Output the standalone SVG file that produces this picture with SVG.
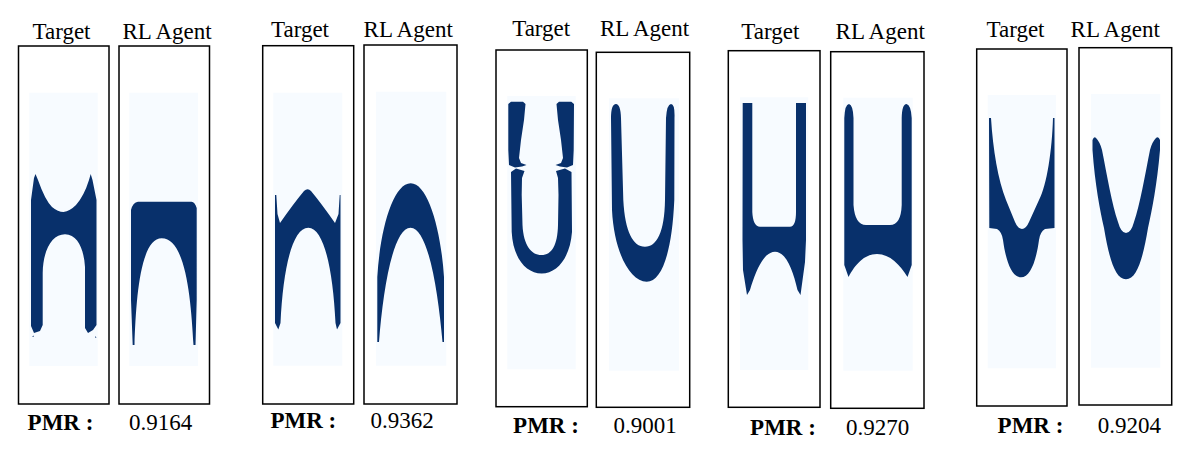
<svg xmlns="http://www.w3.org/2000/svg" width="1196" height="455" viewBox="0 0 1196 455">
<style>
.box{fill:#ffffff;stroke:#000000;stroke-width:1.5}
.bg{fill:#f7fbff}
.sh{fill:#08306b}
.t{font-family:"Liberation Serif","Times New Roman",serif;font-size:23px;fill:#000000;text-anchor:middle}
.b{font-weight:bold}
</style>
<rect width="1196" height="455" fill="#ffffff"/>
<g id="pair1">
<text class="t" x="61.5" y="39">Target</text>
<text class="t" x="167" y="39">RL Agent</text>
<rect class="box" x="18.5" y="46" width="90.5" height="358"/>
<rect class="box" x="119" y="46" width="90.5" height="358"/>
<rect class="bg" x="29.3" y="92.7" width="68.4" height="273.3"/>
<rect class="bg" x="129.3" y="92.7" width="68.7" height="273.3"/>
<path class="sh" d="M31,200 L34,178 L35.5,174 L38,180 Q45,200 52,207 Q58,212 63.5,212 Q70,211 76,205 Q84,196 89,180 L90.7,174 L92.5,180 L96.5,200 L96.5,325 L93,330 L88,333 L85,328 L85,267 C84,250 78,234.3 65,234.3 C52,234.3 43,250 42.7,273 L42.7,325 L40,331 L34,333 L31,326 Z"/>
<path class="sh" d="M32,337 l1.5,-1.5 l0.5,1 z M95,336 l1.5,1.5 l-1,0.5 z"/>
<path class="sh" d="M131,210 Q133,202 138,201.7 L191.5,201.7 Q195,202 196.7,208 L196.7,300 L195.5,345 L193.5,345 C191,300 186,238.3 161.7,238.3 C140,238.3 136,300 134.5,345 L132.7,345 L131,300 Z"/>
<text class="t b" x="60.5" y="430">PMR :</text>
<text class="t" x="160.5" y="430">0.9164</text>
</g>
<g id="pair2">
<text class="t" x="300" y="37.3">Target</text>
<text class="t" x="408.2" y="37.3">RL Agent</text>
<rect class="box" x="262.7" y="45.7" width="91" height="358.3"/>
<rect class="box" x="364" y="45" width="93" height="359"/>
<rect class="bg" x="273.3" y="92.7" width="69" height="273"/>
<rect class="bg" x="376" y="91.7" width="70.3" height="274"/>
<path class="sh" d="M275,195 L276.3,195 L277.5,214 L280,223 Q294,203 304,191 Q307.7,187.5 311,191 Q321,203 335,223 L338.5,214 L339.7,195 L340.5,195 L340.5,323 L337,329.5 L335.5,323 C333,270 324,227.7 308.3,227.7 C292,227.7 283,270 280.5,323 L278.3,329.5 L275,323 Z"/>
<path class="sh" d="M377.3,342 L377.3,277 C380,230 393,183.3 410.7,183.3 C428,183.3 441,230 444,277 L444,342 L442.5,342 C438,290 428,227.7 410.5,227.7 C393,227.7 383,290 379,342 Z"/>
<text class="t b" x="303.3" y="428">PMR :</text>
<text class="t" x="402.2" y="428">0.9362</text>
</g>
<g id="pair3">
<text class="t" x="541.2" y="35.5">Target</text>
<text class="t" x="644.5" y="36">RL Agent</text>
<rect class="box" x="496" y="50" width="91.3" height="356.7"/>
<rect class="box" x="596.3" y="52.3" width="93.4" height="355"/>
<rect class="bg" x="507.3" y="96" width="68.4" height="273.3"/>
<rect class="bg" x="609" y="98.3" width="70" height="272.4"/>
<path class="sh" d="M508.3,104 L511,101.7 L523,101.7 L525.5,104 L524,120 L521,140 L519,158 L521,163 L526.5,165 L522,166.5 L515,167.5 L509,165 L508.3,150 Z"/>
<path class="sh" d="M574,104 L571.3,101.7 L559,101.7 L556.5,104 L558,120 L561,140 L563,158 L561,163 L555.5,165 L560,166.5 L567,167.5 L573,165 L573.7,150 Z"/>
<path class="sh" d="M511,172 L516,168.5 L524.5,171 L522,178 L521.7,195 L522.5,225 C523.5,245 531,255 541.5,255 C552,255 557.5,245 558,225 L558.5,195 L558,178 L556,171 L565,168.5 L571.5,172 L572,232 C570,258 557,273.5 541.7,273.5 C526,273.5 513,258 511.7,232 Z"/>
<path class="sh" d="M611,118 Q611,104 616,104 Q620.5,104 621,118 L623.3,200 C625,232 633,246.7 645,246.7 C657,246.7 664.5,232 665,200 L666,118 Q667,104 671,104 Q675,104 674.5,118 L674.3,200 C672,252 662,281.7 646.7,281.7 C630,281.7 614,252 612,210 Z"/>
<text class="t b" x="546" y="433.3">PMR :</text>
<text class="t" x="645" y="433">0.9001</text>
</g>
<g id="pair4">
<text class="t" x="770.3" y="39">Target</text>
<text class="t" x="880.2" y="39">RL Agent</text>
<rect class="box" x="728.3" y="50.7" width="91.7" height="356.6"/>
<rect class="box" x="830.7" y="51.7" width="93.3" height="356.6"/>
<rect class="bg" x="740" y="97.3" width="68.3" height="272.7"/>
<rect class="bg" x="843.3" y="97.7" width="69.4" height="273"/>
<path class="sh" d="M742.7,103 L752.3,103 L752.3,212 Q753,226.5 760,226.7 L790,226.7 Q796,226.5 796,212 L796,103 L806,103 L806,240 L805,262 L800.5,295 L797.5,290 C793,270 786,251.7 775,251.7 C764,251.7 756,270 750,290 L747,295 L743,270 L742.5,240 Z"/>
<path class="sh" d="M844.3,118 Q845,104 849,104 Q853,105 853.5,118 L853.5,205 Q855,225 866,225 L890,225 Q901,225 901.7,205 L901.7,118 Q902,104 906.5,104 Q911,105 911.7,118 L911.7,265 L907.5,277 C900,265 890,254 877,254 C864,254 855,265 848.5,277 L844.3,265 Z"/>
<text class="t b" x="783" y="435">PMR :</text>
<text class="t" x="877.5" y="435">0.9270</text>
</g>
<g id="pair5">
<text class="t" x="1015.5" y="36.7">Target</text>
<text class="t" x="1115.2" y="37">RL Agent</text>
<rect class="box" x="976.7" y="49" width="90.3" height="357"/>
<rect class="box" x="1079" y="47.7" width="92.7" height="357.3"/>
<rect class="bg" x="987.7" y="95" width="68.3" height="273.3"/>
<rect class="bg" x="1091" y="94" width="69.3" height="273.7"/>
<path class="sh" d="M989,118 L991,118 C993,150 998,180 1006,200 L1015,222 Q1018,229 1022,229 Q1026,229 1029,222 L1039,200 C1047,185 1052,150 1053,118 L1054.5,118 L1054.5,228 L1045,229 Q1040,232 1039,240 C1036,262 1030,277.3 1021,277.3 C1012,277.3 1006,262 1003,240 Q1002,232 997,229 L989.3,228 Z"/>
<path class="sh" d="M1092.5,140 Q1094,136 1096,138 Q1100,142 1102,150 C1107,175 1112,205 1118,222 Q1121,233 1126,233 Q1131,233 1134,222 C1140,205 1145,175 1150,150 Q1152,142 1156,138 Q1158.5,136 1160,140 L1160,150 C1157,185 1152,210 1148,228 C1143,258 1137,279.3 1126,279.3 C1115,279.3 1109,258 1104,228 C1100,210 1095,185 1092.5,150 Z"/>
<text class="t b" x="1030.5" y="433.3">PMR :</text>
<text class="t" x="1129.3" y="433">0.9204</text>
</g>
</svg>
